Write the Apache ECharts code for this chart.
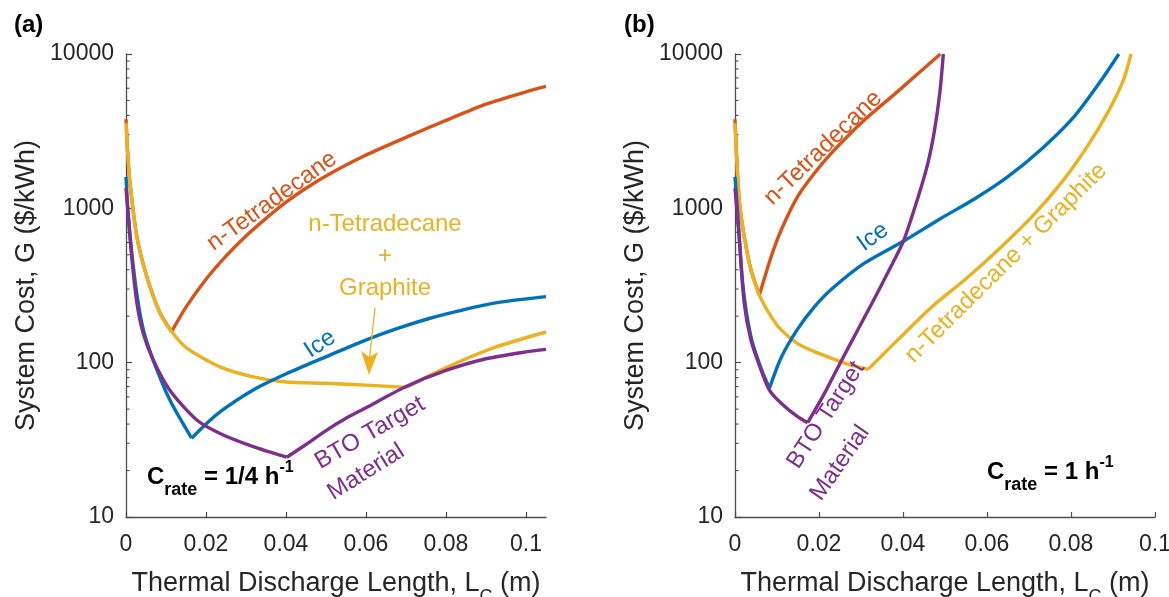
<!DOCTYPE html>
<html><head><meta charset="utf-8">
<script src="https://cdn.jsdelivr.net/npm/echarts@6/dist/echarts.min.js"></script>
<style>html,body{margin:0;padding:0;background:#fff}#c{width:1169px;height:597px}</style>
</head><body><div id="c"></div>
<script>
// ---- tick values ----
const yTicks = [10, 100, 1000, 10000];
const yMinorTicks = [20,30,40,50,60,70,80,90,200,300,400,500,600,700,800,900,2000,3000,4000,5000,6000,7000,8000,9000];
const xTicksA = [0, 0.02, 0.04, 0.06, 0.08, 0.1];
const xTicksB = [0, 0.02, 0.04, 0.06, 0.08, 0.1];

// ---- panel (a): C_rate = 1/4 h^-1 ----  [L_C (m), G ($/kWh)]
const aTetraDown = [[0,3780],[0.0004,2350],[0.001,1460],[0.0027,660],[0.0052,362],[0.0085,210],[0.0114,159]];
const aTetraUp = [[0.0114,159],[0.015,229],[0.02,347],[0.025,490],[0.03,661],[0.035,861],[0.04,1096],[0.045,1349],[0.05,1622],[0.06,2213],[0.07,2884],[0.08,3715],[0.09,4732],[0.1,5689],[0.105,6166]];
const aMixDown = [[0,3560],[0.0004,2300],[0.001,1450],[0.0027,655],[0.0052,361],[0.0085,209],[0.0114,159],[0.0152,124],[0.0235,94],[0.0318,81],[0.04,75],[0.05,73.5],[0.06,71.5],[0.0702,69.2]];
const aMixUp = [[0.0702,69.2],[0.076,83],[0.0843,104],[0.0927,127],[0.105,158]];
const aIceDown = [[0,1600],[0.0005,950],[0.0014,530],[0.0027,280],[0.0043,165],[0.0068,104],[0.011,57],[0.0164,32.4]];
const aIceUp = [[0.0164,32.4],[0.0193,38.5],[0.0235,48],[0.0318,66.5],[0.0402,85],[0.051,112],[0.0593,138],[0.0677,166],[0.076,194],[0.0843,220],[0.0927,245],[0.105,268]];
const aBtoDown = [[0,1350],[0.0006,880],[0.0014,490],[0.0027,245],[0.0043,155],[0.0068,104],[0.011,66],[0.0177,42.5],[0.0235,34.8],[0.0318,28.6],[0.0402,24.4]];
const aBtoUp = [[0.0402,24.4],[0.045,29.5],[0.05,36.3],[0.055,43.6],[0.06,51],[0.07,70],[0.08,89],[0.09,106],[0.1,117.5],[0.105,122]];

// ---- panel (b): C_rate = 1 h^-1 ----
const bTetraDown = [[0,3780],[0.0004,2150],[0.001,1140],[0.0022,660],[0.0038,400],[0.0058,274]];
const bTetraUp = [[0.0058,274],[0.0086,486],[0.011,724],[0.0149,1191],[0.0189,1687],[0.0229,2272],[0.0308,3732],[0.0387,5705],[0.0489,10000]];
const bMixDown = [[0,3560],[0.0004,2100],[0.001,1132],[0.0022,655],[0.0038,398],[0.0058,274],[0.0086,199],[0.011,163],[0.0149,133],[0.0189,118],[0.0229,107],[0.0268,98],[0.0317,90.5]];
const bMixUp = [[0.0317,90.5],[0.0387,140],[0.0467,228],[0.055,350],[0.063,550],[0.071,900],[0.078,1500],[0.084,2550],[0.089,4300],[0.0925,6800],[0.0943,10000]];
const bIceDown = [[0,1600],[0.0006,970],[0.0018,330],[0.0038,147],[0.0062,92],[0.0082,68.3]];
const bIceUp = [[0.0082,68.3],[0.011,108],[0.0149,165],[0.0189,230],[0.0229,298],[0.0308,441],[0.0401,612],[0.049,860],[0.057,1150],[0.0649,1600],[0.0728,2400],[0.0808,3950],[0.0871,6700],[0.0914,10000]];
const bBtoDown = [[0,1350],[0.001,655],[0.0022,242],[0.0038,140],[0.0062,89.6],[0.0082,66.5],[0.011,54.6],[0.0149,44.7],[0.0173,40.8]];
const bBtoUp = [[0.0173,40.8],[0.0213,63.2],[0.0248,96.6],[0.0288,155],[0.0328,248],[0.0367,398],[0.0401,612],[0.0435,1160],[0.0459,1950],[0.0475,3200],[0.0488,5700],[0.0496,10000]];

const FONT = '"Liberation Sans", Arial, Helvetica, sans-serif';
const C_OR = '#D95319', C_YE = '#EDB120', C_BL = '#0072BD', C_PU = '#7E2F8E';
const AX = '#4d4d4d', TXT = '#262626';
const deg = d => d * Math.PI / 180;

function xAxisCfg(gi, max, ticks) {
  return {
    type: 'value', gridIndex: gi, min: 0, max: max,
    axisLine: { show: true, onZero: false, lineStyle: { color: AX, width: 1.3 } },
    axisTick: { show: true, inside: true, length: 5, customValues: ticks, lineStyle: { color: AX, width: 1.2 } },
    axisLabel: { customValues: ticks, formatter: v => (v === 0 ? '0' : String(+(+v).toFixed(3))), fontSize: 23, color: TXT, fontFamily: FONT, margin: 16 },
    splitLine: { show: false },
    name: 'Thermal Discharge Length, L{s|C} (m)', nameLocation: 'middle', nameGap: 45,
    nameTextStyle: { fontSize: 27, color: TXT, fontFamily: FONT,
      rich: { s: { fontSize: 18, color: TXT, fontFamily: FONT, padding: [26, 0, 0, 0] } } }
  };
}
function yAxisCfg(gi) {
  return {
    type: 'log', logBase: 10, gridIndex: gi, min: 10, max: 10000,
    axisLine: { show: true, onZero: false, lineStyle: { color: AX, width: 1.3 } },
    axisTick: { show: true, inside: true, length: 6, lineStyle: { color: AX, width: 1.2 } },
    axisLabel: { formatter: v => String(Math.round(v)), fontSize: 23, color: TXT, fontFamily: FONT, margin: 12 },
    splitLine: { show: false }, minorTick: { show: false },
    name: 'System Cost, G ($/kWh)', nameLocation: 'middle', nameGap: 86,
    nameTextStyle: { fontSize: 27, color: TXT, fontFamily: FONT }
  };
}
function line(gi, data, color, z) {
  return { type: 'line', xAxisIndex: gi, yAxisIndex: gi, data: data, showSymbol: false, symbol: 'none',
    smooth: 0.25, lineStyle: { color: color, width: 3.4, join: 'round', cap: 'butt' }, z: z, silent: true, animation: false };
}
function minor(gi) {
  return { type: 'custom', xAxisIndex: gi, yAxisIndex: gi, silent: true, animation: false, clip: false, z: 1,
    data: yMinorTicks.map(v => [0, v]),
    renderItem: (params, api) => {
      const p = api.coord([0, api.value(1)]);
      return { type: 'line', shape: { x1: p[0], y1: p[1], x2: p[0] + 3.5, y2: p[1] }, style: { stroke: AX, lineWidth: 1.1 } };
    } };
}
function txt(x, y, text, color, rot, size, extra) {
  return Object.assign({ type: 'text', x: x, y: y, rotation: deg(rot || 0), z: 100,
    style: { text: text, fill: color, font: (size || 24) + 'px ' + FONT, align: 'center', verticalAlign: 'middle' } }, extra || {});
}
function crate(x, y, val) {
  return { type: 'text', x: x, y: y, z: 100,
    style: { text: '{b|C}{s|rate}{b| = ' + val + ' h}{p|-1}', align: 'left', verticalAlign: 'middle',
      rich: {
        b: { fontSize: 24, fontWeight: 'bold', fontFamily: FONT, fill: '#000', color: '#000' },
        s: { fontSize: 18, fontWeight: 'bold', fontFamily: FONT, fill: '#000', color: '#000', padding: [26, 0, 0, 0] },
        p: { fontSize: 16, fontWeight: 'bold', fontFamily: FONT, fill: '#000', color: '#000', padding: [0, 0, 18, 0] }
      } } };
}

const chart = echarts.init(document.getElementById('c'), null, { renderer: 'canvas' });
chart.setOption({
  backgroundColor: '#fff',
  animation: false,
  grid: [
    { left: 126, top: 54, width: 420, height: 463, containLabel: false, outerBoundsMode: 'none' },
    { left: 735, top: 54, width: 420, height: 463, containLabel: false, outerBoundsMode: 'none' }
  ],
  xAxis: [xAxisCfg(0, 0.105, xTicksA), xAxisCfg(1, 0.1, xTicksB)],
  yAxis: [yAxisCfg(0), yAxisCfg(1)],
  series: [
    minor(0), minor(1),
    line(0, aTetraDown, C_OR, 2), line(0, aTetraUp, C_OR, 2),
    line(0, aMixDown, C_YE, 3), line(0, aMixUp, C_YE, 3),
    line(0, aIceDown, C_BL, 4), line(0, aIceUp, C_BL, 4),
    line(0, aBtoDown, C_PU, 5), line(0, aBtoUp, C_PU, 5),
    line(1, bTetraDown, C_OR, 2), line(1, bTetraUp, C_OR, 2),
    line(1, bMixDown, C_YE, 3), line(1, bMixUp, C_YE, 3),
    line(1, bIceDown, C_BL, 4), line(1, bIceUp, C_BL, 4),
    line(1, bBtoDown, C_PU, 5), line(1, bBtoUp, C_PU, 5)
  ],
  graphic: [
    { type: 'text', left: 14, top: 13, style: { text: '(a)', font: 'bold 24px ' + FONT, fill: '#000' } },
    { type: 'text', left: 624, top: 13, style: { text: '(b)', font: 'bold 24px ' + FONT, fill: '#000' } },
    // panel (a) annotations
    txt(272, 201, 'n-Tetradecane', C_OR, 35.7),
    txt(385, 224, 'n-Tetradecane', C_YE, 0),
    txt(385, 256, '+', C_YE, 0),
    txt(385, 288, 'Graphite', C_YE, 0),
    { type: 'line', z: 100, shape: { x1: 375, y1: 308, x2: 369.5, y2: 358 }, style: { stroke: C_YE, lineWidth: 1.3 } },
    { type: 'polygon', z: 100, shape: { points: [[369, 375], [361, 351], [369.5, 357], [378, 352]] }, style: { fill: C_YE } },
    txt(320, 344, 'Ice', C_BL, 33),
    txt(370, 433, 'BTO Target', C_PU, 30),
    txt(366, 472, 'Material', C_PU, 32),
    crate(147, 477, '1/4'),
    // panel (b) annotations
    txt(823, 148, 'n-Tetradecane', C_OR, 44),
    txt(873, 237, 'Ice', C_BL, 36),
    txt(1006, 263, 'n-Tetradecane + Graphite', C_YE, 44.7),
    txt(826, 415, 'BTO Target', C_PU, 57),
    txt(840, 463, 'Material', C_PU, 55),
    crate(987, 472, '1')
  ]
});
</script></body></html>
